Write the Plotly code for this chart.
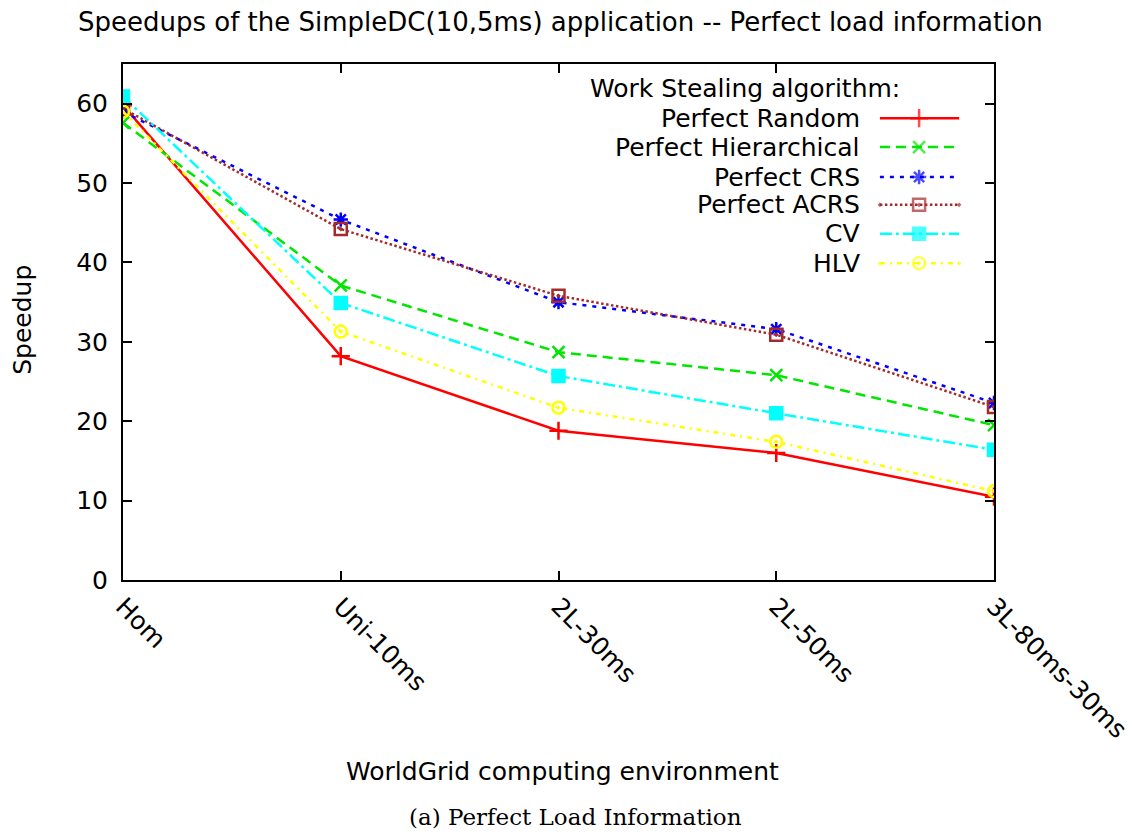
import plotly.graph_objects as go

# ---- data ----
categories = ["Hom", "Uni-10ms", "2L-30ms", "2L-50ms", "3L-80ms-30ms"]
perfect_random = [59.8, 28.2, 18.8, 16.0, 10.5]
perfect_hierarchical = [57.6, 37.1, 28.7, 25.8, 19.5]
perfect_crs = [59.0, 45.4, 35.0, 31.6, 22.3]
perfect_acrs = [59.4, 44.2, 35.8, 30.9, 21.8]
cv = [60.9, 34.9, 25.7, 21.0, 16.4]
hlv = [59.0, 31.3, 21.7, 17.4, 11.2]

series_names = ["Perfect Random", "Perfect Hierarchical", "Perfect CRS",
                "Perfect ACRS", "CV", "HLV"]
series_values = [perfect_random, perfect_hierarchical, perfect_crs,
                 perfect_acrs, cv, hlv]

# ---- styles ----
colors = ["#ff0000", "#00e600", "#0000ff", "#a52a2a", "#00ffff", "#ffff00"]
dashes = ["solid", "10px,6px", "4px,6px", "2.5px,2.5px", "12px,4px,3px,4px", "5px,5px,2px,5px"]
symbols = ["cross-thin-open", "x-thin-open", "asterisk-open", "square-open-dot",
           "square", "circle-open-dot"]
msizes = [13, 12, 12, 12, 12, 12]

FONT = "DejaVu Sans"
FS = 25

x_idx = list(range(len(categories)))

fig = go.Figure()
for name, vals, c, d, s, ms in zip(series_names, series_values, colors, dashes, symbols, msizes):
    fig.add_trace(go.Scatter(
        x=x_idx, y=vals, mode="lines+markers", name=name,
        line=dict(color=c, width=2.5, dash=d),
        marker=dict(symbol=s, size=ms, color=c, line=dict(color=c, width=2.5)),
        showlegend=False, hoverinfo="skip"))

# ---- custom gnuplot-style key (text right, sample left) ----
key_rows = [0.895, 0.839, 0.781, 0.727, 0.671, 0.614]
key_text_x = 0.848
key_line = [0.869, 0.914, 0.960]
for name, c, d, s, ms, ry in zip(series_names, colors, dashes, symbols, msizes, key_rows):
    fig.add_trace(go.Scatter(
        x=key_line, y=[ry, ry, ry], mode="lines+markers",
        xaxis="x2", yaxis="y2",
        line=dict(color=c, width=2.5, dash=d),
        marker=dict(symbol=s, size=[0, ms, 0], color=c, line=dict(color=c, width=2.5)),
        showlegend=False, hoverinfo="skip"))

annotations = [
    dict(text="Work Stealing algorithm:", x=0.894, y=0.953, xanchor="right", yanchor="middle"),
]
for name, ry in zip(series_names, key_rows):
    annotations.append(dict(text=name, x=key_text_x, y=ry, xanchor="right", yanchor="middle"))
annotations += [
    dict(text="Speedups of the SimpleDC(10,5ms) application -- Perfect load information",
         x=0.502, y=1.081, xanchor="center", yanchor="middle",
         font=dict(family=FONT, size=26, color="black")),
    dict(text="WorldGrid computing environment", x=0.505, y=-0.372,
         xanchor="center", yanchor="middle"),
    dict(text="Speedup", x=-0.115, y=0.504, textangle=-90,
         xanchor="center", yanchor="middle"),
    dict(text="(a) Perfect Load Information", x=0.519, y=-0.459,
         xanchor="center", yanchor="middle",
         font=dict(family="DejaVu Serif", size=23, color="black")),
]
for a in annotations:
    a.setdefault("font", dict(family=FONT, size=FS, color="black"))
    a.update(xref="paper", yref="paper", showarrow=False)

axis_common = dict(showline=True, mirror="ticks", linecolor="black", linewidth=2,
                   ticks="inside", ticklen=9, tickwidth=1.5, tickcolor="black",
                   showgrid=False, zeroline=False,
                   tickfont=dict(family=FONT, size=FS, color="black"))

fig.update_layout(
    width=1145, height=834,
    margin=dict(l=123, r=147, t=64, b=254, pad=0),
    paper_bgcolor="white", plot_bgcolor="white",
    xaxis=dict(range=[0, 4], tickmode="array", tickvals=x_idx, ticktext=categories,
               tickangle=45, **axis_common),
    yaxis=dict(range=[0, 65], tickmode="array", tickvals=[0, 10, 20, 30, 40, 50, 60],
               ticklabelstandoff=8, **axis_common),
    xaxis2=dict(overlaying="x", range=[0, 1], visible=False, domain=[0, 1]),
    yaxis2=dict(overlaying="y", range=[0, 1], visible=False, domain=[0, 1]),
    annotations=annotations,
    showlegend=False,
)

fig.write_html("out.html")
